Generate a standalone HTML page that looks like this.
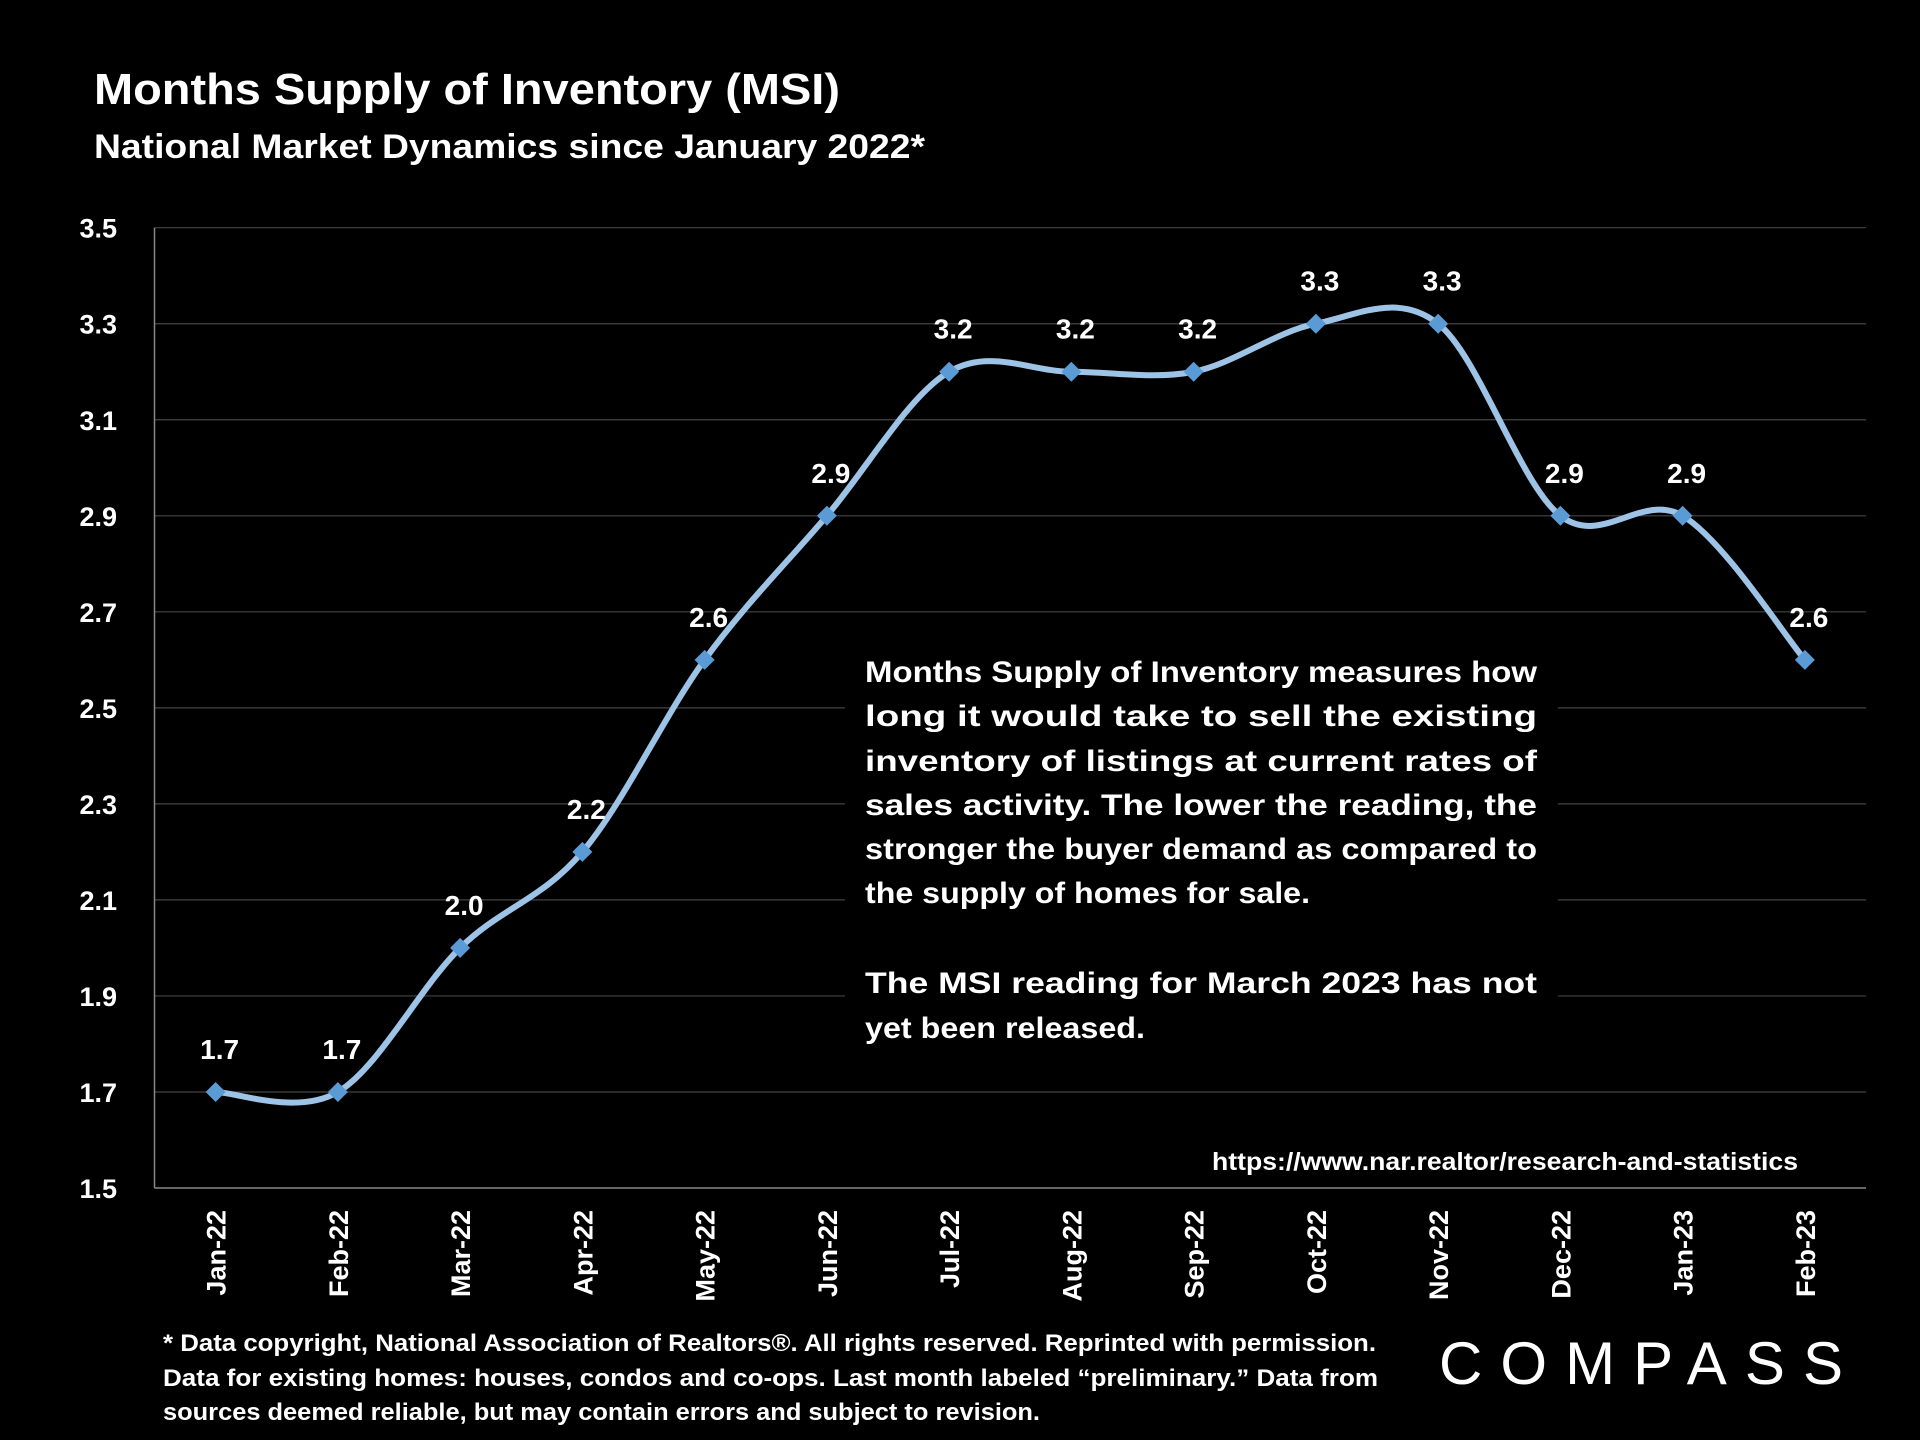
<!DOCTYPE html>
<html><head><meta charset="utf-8"><title>Months Supply of Inventory</title>
<style>
html,body{margin:0;padding:0;background:#000;}
svg{display:block;font-family:"Liberation Sans",sans-serif;}
</style></head>
<body>
<svg id="chart" width="1920" height="1440" viewBox="0 0 1920 1440" xmlns="http://www.w3.org/2000/svg">
<rect width="1920" height="1440" fill="#000"/>
<text x="94" y="104" fill="#fff" font-size="44" font-weight="bold" textLength="746" lengthAdjust="spacingAndGlyphs">Months Supply of Inventory (MSI)</text>
<text x="94" y="158" fill="#fff" font-size="34" font-weight="bold" textLength="831" lengthAdjust="spacingAndGlyphs">National Market Dynamics since January 2022*</text>
<g id="grid"></g>
<g id="yticks"></g>
<g id="xticks"></g>
<g id="series"></g>
<g>
<rect x="845" y="650" width="713" height="400" fill="#000"/>
<g fill="#fff" font-size="30" font-weight="bold">
<text x="865" y="682" textLength="672" lengthAdjust="spacingAndGlyphs">Months Supply of Inventory measures how</text>
<text x="865" y="726" textLength="672" lengthAdjust="spacingAndGlyphs">long it would take to sell the existing</text>
<text x="865" y="771" textLength="672" lengthAdjust="spacingAndGlyphs">inventory of listings at current rates of</text>
<text x="865" y="815" textLength="672" lengthAdjust="spacingAndGlyphs">sales activity. The lower the reading, the</text>
<text x="865" y="859" textLength="672" lengthAdjust="spacingAndGlyphs">stronger the buyer demand as compared to</text>
<text x="865" y="903" textLength="445" lengthAdjust="spacingAndGlyphs">the supply of homes for sale.</text>
<text x="865" y="993" textLength="672" lengthAdjust="spacingAndGlyphs">The MSI reading for March 2023 has not</text>
<text x="865" y="1038" textLength="280" lengthAdjust="spacingAndGlyphs">yet been released.</text>
</g></g>
<text x="1212" y="1170" fill="#fff" font-size="25" font-weight="bold" textLength="586" lengthAdjust="spacingAndGlyphs">https://www.nar.realtor/research-and-statistics</text>
<g fill="#fff" font-size="24" font-weight="bold">
<text x="163" y="1351" textLength="1213" lengthAdjust="spacingAndGlyphs">* Data copyright, National Association of Realtors®. All rights reserved. Reprinted with permission.</text>
<text x="163" y="1386" textLength="1215" lengthAdjust="spacingAndGlyphs">Data for existing homes: houses, condos and co-ops. Last month labeled “preliminary.” Data from</text>
<text x="163" y="1420" textLength="877" lengthAdjust="spacingAndGlyphs">sources deemed reliable, but may contain errors and subject to revision.</text>
</g>
<text x="1439" y="1384" fill="#fff" font-size="60" textLength="404" lengthAdjust="spacing">COMPASS</text>
</svg>
<script>
const categories = ["Jan-22","Feb-22","Mar-22","Apr-22","May-22","Jun-22","Jul-22","Aug-22","Sep-22","Oct-22","Nov-22","Dec-22","Jan-23","Feb-23"];
const msiValues = [1.7,1.7,2.0,2.2,2.6,2.9,3.2,3.2,3.2,3.3,3.3,2.9,2.9,2.6];
const valueLabels = ["1.7","1.7","2.0","2.2","2.6","2.9","3.2","3.2","3.2","3.3","3.3","2.9","2.9","2.6"];
const yTicks = [1.5,1.7,1.9,2.1,2.3,2.5,2.7,2.9,3.1,3.3,3.5];
const yTickLabels = ["1.5","1.7","1.9","2.1","2.3","2.5","2.7","2.9","3.1","3.3","3.5"];

const NS = "http://www.w3.org/2000/svg";
const plotL = 154.5, plotR = 1866, plotT = 227.7, plotB = 1188;
const yMin = 1.5, yMax = 3.5;
function yScale(v){ return plotB - (v - yMin) / (yMax - yMin) * (plotB - plotT); }
const step = (plotR - plotL) / categories.length;
function xScale(i){ return plotL + step * (i + 0.5); }
function mk(tag, attrs, parent){ const e = document.createElementNS(NS, tag); for (const k in attrs) e.setAttribute(k, attrs[k]); parent.appendChild(e); return e; }

const grid = document.getElementById('grid');
const yt = document.getElementById('yticks');
yTicks.forEach((t, i) => {
  const y = yScale(t);
  const ln = mk('line', {x1: plotL, x2: plotR, y1: y, y2: y, stroke: i === 0 ? '#888' : '#444', 'stroke-width': i === 0 ? 1.5 : 1.2}, grid);
  
  
  const tx = mk('text', {x: 117, y: y + 10, fill: '#fff', 'font-size': 27, 'font-weight': 'bold', 'text-anchor': 'end'}, yt);
  tx.textContent = yTickLabels[i];
  
  
});
const ax = mk('line', {x1: plotL, x2: plotL, y1: plotT, y2: plotB, stroke: '#888', 'stroke-width': 1.5}, grid);



const xt = document.getElementById('xticks');
categories.forEach((c, i) => {
  const x = xScale(i) + 10;
  const tx = mk('text', {x: x, y: 1210, fill: '#fff', 'font-size': 27, 'font-weight': 'bold', 'text-anchor': 'end', transform: 'rotate(-90 ' + x + ' 1210)'}, xt);
  tx.textContent = c;
  
  
});

const ser = document.getElementById('series');
const pts = msiValues.map((v, i) => [xScale(i), yScale(v)]);
let d = 'M' + pts[0][0] + ',' + pts[0][1];
for (let i = 0; i < pts.length - 1; i++) {
  const p0 = pts[Math.max(0, i - 1)], p1 = pts[i], p2 = pts[i + 1], p3 = pts[Math.min(pts.length - 1, i + 2)];
  const c1x = p1[0] + (p2[0] - p0[0]) / 6, c1y = p1[1] + (p2[1] - p0[1]) / 6;
  const c2x = p2[0] - (p3[0] - p1[0]) / 6, c2y = p2[1] - (p3[1] - p1[1]) / 6;
  d += ' C' + c1x + ',' + c1y + ' ' + c2x + ',' + c2y + ' ' + p2[0] + ',' + p2[1];
}
const path = mk('path', {d: d, fill: 'none', stroke: '#9DC3E6', 'stroke-width': 6, 'stroke-linejoin': 'round'}, ser);


pts.forEach((p, i) => {
  const s = 10;
  const m = mk('polygon', {points: (p[0]) + ',' + (p[1] - s) + ' ' + (p[0] + s) + ',' + p[1] + ' ' + p[0] + ',' + (p[1] + s) + ' ' + (p[0] - s) + ',' + p[1], fill: '#5B9BD5'}, ser);
  
  
  const t = mk('text', {x: p[0] + 4, y: p[1] - 33, fill: '#fff', 'font-size': 28, 'font-weight': 'bold', 'text-anchor': 'middle'}, ser);
  t.textContent = valueLabels[i];
  
  
});
</script>
</body></html>
